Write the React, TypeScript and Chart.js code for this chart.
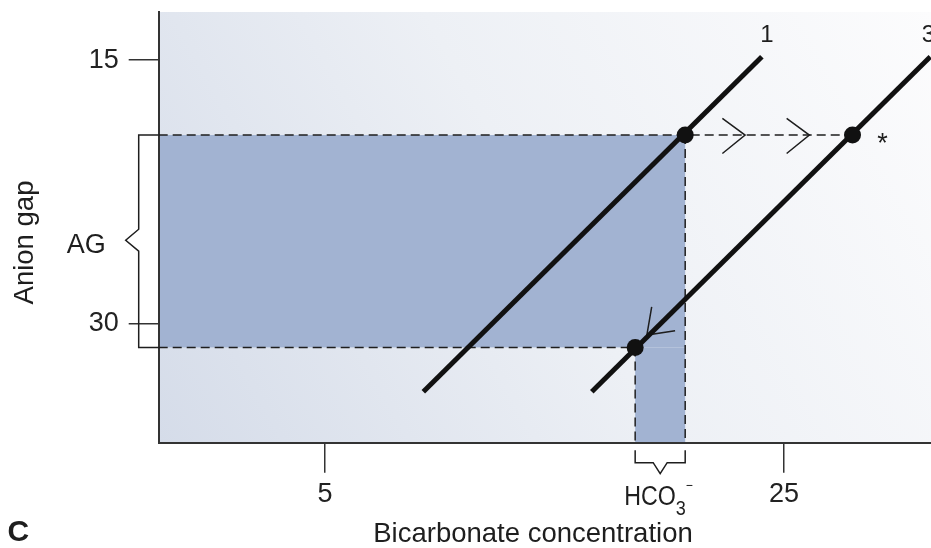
import React, { useEffect, useRef } from "react";
import { Chart, registerables } from "chart.js";

Chart.register(...registerables);

// ---- data ----
const X_TICKS = [5, 25];
const Y_TICKS = [15, 30];
const X_RANGE = [-2.25, 31.4];
const Y_RANGE = [12.26, 36.8];

const LINE_LABELS = ["1", "3"];
const LINE_1_X = [9.28, 24.03];
const LINE_1_Y = [33.9, 14.81];
const LINE_3_X = [16.62, 31.37];
const LINE_3_Y = [33.9, 14.81];

const POINT_X = [20.69, 27.98, 18.51];
const POINT_Y = [19.27, 19.27, 31.37];

const AG_RANGE = [19.27, 31.37];
const HCO3_RANGE = [18.51, 20.69];

const CHEVRON_1_X = [22.31, 23.3, 22.31];
const CHEVRON_1_Y = [18.32, 19.27, 20.32];
const CHEVRON_2_X = [25.11, 26.1, 25.11];
const CHEVRON_2_Y = [18.32, 19.27, 20.32];
const CHEVRON_3_X = [19.23, 19.02, 20.25];
const CHEVRON_3_Y = [29.06, 30.67, 30.42];

const X_TITLE = "Bicarbonate concentration";
const Y_TITLE = "Anion gap";
const PANEL_LABEL = "C";
const AG_LABEL = "AG";
const STAR_LABEL = "*";
const HCO3_PARTS = ["HCO", "3", "\u2212"];

const FONT = "'Liberation Sans', Arial, Helvetica, sans-serif";
const INK = "#1e1e1e";
const SHADE = "#a2b3d2";

const zip = (xs: number[], ys: number[]) => xs.map((x, i) => ({ x, y: ys[i] }));

const dashed = (pts: { x: number; y: number }[]) => ({
  data: pts,
  showLine: true,
  borderColor: INK,
  borderWidth: 1.5,
  borderDash: [9, 5],
  pointRadius: 0,
  fill: false,
});

const chevron = (xs: number[], ys: number[]) => ({
  data: zip(xs, ys),
  showLine: true,
  borderColor: INK,
  borderWidth: 1.5,
  borderJoinStyle: "miter" as const,
  pointRadius: 0,
  fill: false,
});

const decorPlugin = {
  id: "decor",
  beforeDraw(chart: any) {
    const { ctx, chartArea: a, scales } = chart;
    const xs = scales.x;
    const ys = scales.y;
    ctx.save();
    const g = ctx.createLinearGradient(a.left, a.bottom, a.right, a.top);
    g.addColorStop(0, "#d5dce9");
    g.addColorStop(0.5, "#edf0f5");
    g.addColorStop(1, "#fcfcfd");
    ctx.fillStyle = g;
    ctx.fillRect(a.left, a.top, a.right - a.left, a.bottom - a.top);

    ctx.fillStyle = SHADE;
    const xL = xs.getPixelForValue(X_RANGE[0]);
    const xH2 = xs.getPixelForValue(HCO3_RANGE[1]);
    const xH1 = xs.getPixelForValue(HCO3_RANGE[0]);
    const yA = ys.getPixelForValue(AG_RANGE[0]);
    const yB = ys.getPixelForValue(AG_RANGE[1]);
    const yBot = ys.getPixelForValue(Y_RANGE[1]);
    ctx.fillRect(xL, yA, xH2 - xL, yB - yA);
    ctx.fillRect(xH1, yB, xH2 - xH1, yBot - yB);
    ctx.restore();
  },
  afterDraw(chart: any) {
    const { ctx, chartArea: a, scales } = chart;
    const xs = scales.x;
    const ys = scales.y;
    ctx.save();
    ctx.strokeStyle = INK;
    ctx.fillStyle = INK;
    ctx.lineWidth = 1.5;
    ctx.lineJoin = "miter";

    // AG bracket
    const yA = ys.getPixelForValue(AG_RANGE[0]);
    const yB = ys.getPixelForValue(AG_RANGE[1]);
    const mid = (yA + yB) / 2;
    const bx = a.left - 20;
    ctx.beginPath();
    ctx.moveTo(a.left, yA);
    ctx.lineTo(bx, yA);
    ctx.lineTo(bx, mid - 12);
    ctx.lineTo(a.left - 33, mid - 1);
    ctx.lineTo(bx, mid + 10);
    ctx.lineTo(bx, yB);
    ctx.lineTo(a.left, yB);
    ctx.stroke();

    // HCO3 bracket
    const x1 = xs.getPixelForValue(HCO3_RANGE[0]);
    const x2 = xs.getPixelForValue(HCO3_RANGE[1]);
    const mx = (x1 + x2) / 2;
    const yT = a.bottom + 7.5;
    const yBar = a.bottom + 20;
    const yPt = a.bottom + 31;
    ctx.beginPath();
    ctx.moveTo(x1, yT);
    ctx.lineTo(x1, yBar);
    ctx.lineTo(mx - 7, yBar);
    ctx.lineTo(mx, yPt);
    ctx.lineTo(mx + 7, yBar);
    ctx.lineTo(x2, yBar);
    ctx.lineTo(x2, yT);
    ctx.stroke();

    // texts
    ctx.textBaseline = "alphabetic";
    ctx.textAlign = "left";
    // HCO3- (slightly condensed, like the reference face)
    const sxScale = 0.86;
    const hx = mx - 36;
    ctx.save();
    ctx.translate(hx, a.bottom + 62.5);
    ctx.scale(sxScale, 1);
    ctx.font = `27px ${FONT}`;
    ctx.fillText(HCO3_PARTS[0], 0, 0);
    const w = ctx.measureText(HCO3_PARTS[0]).width;
    ctx.font = `21px ${FONT}`;
    ctx.fillText(HCO3_PARTS[1], w, 10);
    const w3 = ctx.measureText(HCO3_PARTS[1]).width;
    ctx.font = `14px ${FONT}`;
    ctx.textBaseline = "middle";
    ctx.fillText(HCO3_PARTS[2], w + w3, -19.5);
    ctx.restore();
    ctx.textBaseline = "alphabetic";

    // AG
    ctx.font = `27px ${FONT}`;
    ctx.textAlign = "right";
    ctx.fillText(AG_LABEL, a.left - 53, mid + 12);

    // line labels
    ctx.textAlign = "center";
    ctx.font = `24px ${FONT}`;
    const e1x = xs.getPixelForValue(LINE_1_X[1]);
    const e1y = ys.getPixelForValue(LINE_1_Y[1]);
    ctx.fillText(LINE_LABELS[0], e1x + 5, e1y - 15);
    const e3x = xs.getPixelForValue(LINE_3_X[1]);
    const e3y = ys.getPixelForValue(LINE_3_Y[1]);
    ctx.fillText(LINE_LABELS[1], e3x - 2, e3y - 15);

    // star
    ctx.font = `27px ${FONT}`;
    const sx = xs.getPixelForValue(POINT_X[1]);
    const sy = ys.getPixelForValue(POINT_Y[1]);
    ctx.fillText(STAR_LABEL, sx + 30, sy + 17);

    // axis titles
    ctx.font = `27.5px ${FONT}`;
    ctx.fillText(X_TITLE, 533, 541.7);
    ctx.save();
    ctx.translate(33, 242.5);
    ctx.rotate(-Math.PI / 2);
    ctx.fillText(Y_TITLE, 0, 0);
    ctx.restore();

    // panel letter
    ctx.textAlign = "left";
    ctx.font = `bold 30px ${FONT}`;
    ctx.fillText(PANEL_LABEL, 7.5, 541);

    ctx.restore();
  },
};

export default function App() {
  const ref = useRef<HTMLCanvasElement | null>(null);

  useEffect(() => {
    if (!ref.current) return;
    const chart = new Chart(ref.current, {
      type: "scatter",
      data: {
        datasets: [
          {
            data: zip(POINT_X, POINT_Y),
            pointRadius: 8.5,
            pointBackgroundColor: "#111",
            pointBorderColor: "#111",
            pointBorderWidth: 0,
            showLine: false,
          } as any,
          {
            data: zip(LINE_1_X, LINE_1_Y),
            showLine: true,
            borderColor: "#111",
            borderWidth: 5,
            pointRadius: 0,
          },
          {
            data: zip(LINE_3_X, LINE_3_Y),
            showLine: true,
            borderColor: "#111",
            borderWidth: 5,
            pointRadius: 0,
          },
          chevron(CHEVRON_1_X, CHEVRON_1_Y),
          chevron(CHEVRON_2_X, CHEVRON_2_Y),
          chevron(CHEVRON_3_X, CHEVRON_3_Y),
          dashed([
            { x: X_RANGE[0], y: AG_RANGE[0] },
            { x: POINT_X[1], y: AG_RANGE[0] },
          ]),
          dashed([
            { x: X_RANGE[0], y: AG_RANGE[1] },
            { x: HCO3_RANGE[0], y: AG_RANGE[1] },
          ]),
          dashed([
            { x: HCO3_RANGE[1], y: AG_RANGE[0] },
            { x: HCO3_RANGE[1], y: Y_RANGE[1] },
          ]),
          dashed([
            { x: HCO3_RANGE[0], y: AG_RANGE[1] },
            { x: HCO3_RANGE[0], y: Y_RANGE[1] },
          ]),
        ] as any,
      },
      options: {
        responsive: false,
        animation: false,
        events: [],
        layout: { autoPadding: false, padding: { top: 12, left: 0, right: 0, bottom: 0 } },
        plugins: {
          legend: { display: false },
          tooltip: { enabled: false },
          title: { display: false },
        },
        scales: {
          x: {
            type: "linear",
            position: "bottom",
            min: X_RANGE[0],
            max: X_RANGE[1],
            afterBuildTicks: (s: any) => {
              s.ticks = X_TICKS.map((v) => ({ value: v }));
            },
            afterFit: (s: any) => {
              s.height = 105.3;
              s.paddingLeft = 0;
              s.paddingRight = 0;
            },
            grid: {
              drawOnChartArea: false,
              drawTicks: true,
              tickLength: 30,
              color: "#333",
              lineWidth: 1.5,
            },
            border: { display: true, color: "#333", width: 2 },
            ticks: {
              font: { family: FONT, size: 27 },
              color: "#222",
              padding: 6,
              maxRotation: 0,
              autoSkip: false,
            },
            title: { display: false },
          },
          y: {
            type: "linear",
            position: "left",
            reverse: true,
            min: Y_RANGE[0],
            max: Y_RANGE[1],
            afterBuildTicks: (s: any) => {
              s.ticks = Y_TICKS.map((v) => ({ value: v }));
            },
            afterFit: (s: any) => {
              s.width = 158.7;
              s.paddingTop = 0;
              s.paddingBottom = 0;
            },
            grid: {
              drawOnChartArea: false,
              drawTicks: true,
              tickLength: 30,
              color: "#333",
              lineWidth: 1.5,
            },
            border: { display: true, color: "#333", width: 2 },
            ticks: {
              font: { family: FONT, size: 27 },
              color: "#222",
              padding: 10,
              autoSkip: false,
            },
            title: { display: false },
          },
        },
      },
      plugins: [decorPlugin],
    });
    return () => chart.destroy();
  }, []);

  return (
    <div style={{ position: "fixed", left: 0, top: 0, width: 931, height: 548, background: "#fff" }}>
      <canvas ref={ref} width={931} height={548} style={{ display: "block" }} />
    </div>
  );
}
